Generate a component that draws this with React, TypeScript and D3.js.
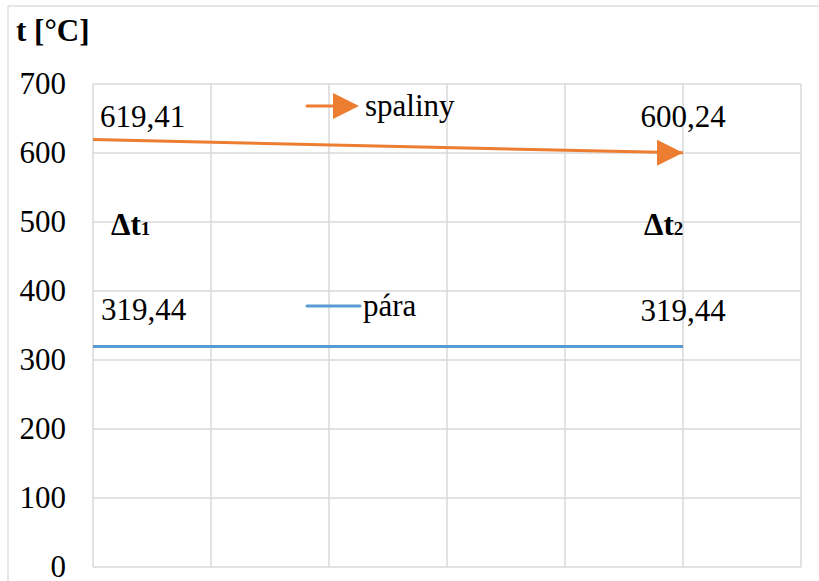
import React from "react";
import * as d3 from "d3";

const xPoints = [0, 5];
const spalinyValues = [619.41, 600.24];
const paraValues = [319.44, 319.44];
const yTicks = [0, 100, 200, 300, 400, 500, 600, 700];
const xGrid = [0, 1, 2, 3, 4, 5, 6];
const spalinyLabels = ["619,41", "600,24"];
const paraLabels = ["319,44", "319,44"];
const seriesNames = ["spaliny", "pára"];

const W = 819;
const H = 581;
const ORANGE = "#ed7d31";
const BLUE = "#5b9bd5";
const GRID = "#d9d9d9";
const FONT = "Liberation Serif";
const FS = 31;
const txt: React.CSSProperties = { fontFamily: FONT, fontWeight: 400, fontSize: FS };
const bold: React.CSSProperties = { fontFamily: FONT, fontWeight: 700, fontSize: FS };

export default function App() {
  const x = d3.scaleLinear().domain([0, 6]).range([93, 801]);
  const y = d3.scaleLinear().domain([0, 700]).range([567, 84]);

  const line = d3
    .line<number>()
    .x((_, i) => x(xPoints[i]))
    .y((d) => y(d));

  const tipX = x(xPoints[1]);
  const tipY = y(spalinyValues[1]);
  const arrow = (tx: number, ty: number) =>
    `M${tx},${ty} L${tx - 26},${ty - 13} L${tx - 26},${ty + 13} Z`;

  return (
    <svg
      width={W}
      height={H}
      style={{ position: "absolute", left: 0, top: 0, background: "#fff" }}
    >
      <rect x={0} y={0} width={W} height={H} fill="#fff" />
      <rect x={8} y={6} width={W + 20} height={H + 20} fill="none" stroke={GRID} strokeWidth={1.3} />

      {yTicks.map((t) => (
        <line key={"h" + t} x1={x(0)} x2={x(6)} y1={y(t)} y2={y(t)} stroke={GRID} strokeWidth={1.5} />
      ))}
      {xGrid.map((g) => (
        <line key={"v" + g} x1={x(g)} x2={x(g)} y1={y(0)} y2={y(700)} stroke={GRID} strokeWidth={1.5} />
      ))}

      {yTicks.map((t) => (
        <text key={"yl" + t} x={66} y={y(t) + 10} textAnchor="end" style={txt} fill="#000">
          {t}
        </text>
      ))}

      <text x={16} y={41} style={bold} fill="#000">
        t [°C]
      </text>

      <path d={line(spalinyValues) || ""} fill="none" stroke={ORANGE} strokeWidth={3} />
      <path d={arrow(tipX, tipY)} fill={ORANGE} />
      <path d={line(paraValues) || ""} fill="none" stroke={BLUE} strokeWidth={3} />

      <text x={100} y={127} style={txt} fill="#000">{spalinyLabels[0]}</text>
      <text x={tipX} y={127} textAnchor="middle" style={txt} fill="#000">{spalinyLabels[1]}</text>
      <text x={101} y={320} style={txt} fill="#000">{paraLabels[0]}</text>
      <text x={tipX} y={321} textAnchor="middle" style={txt} fill="#000">{paraLabels[1]}</text>

      <text x={111} y={235} style={bold} fill="#000">
        Δt<tspan style={{ fontSize: 19 }}>1</tspan>
      </text>
      <text x={644} y={235} style={bold} fill="#000">
        Δt<tspan style={{ fontSize: 19 }}>2</tspan>
      </text>

      <line x1={307} x2={336} y1={106} y2={106} stroke={ORANGE} strokeWidth={3} strokeLinecap="round" />
      <path d={arrow(359, 106)} fill={ORANGE} />
      <text x={365} y={116} style={txt} fill="#000">{seriesNames[0]}</text>

      <line x1={307} x2={360} y1={306} y2={306} stroke={BLUE} strokeWidth={3} strokeLinecap="round" />
      <text x={363} y={316} style={txt} fill="#000">{seriesNames[1]}</text>
    </svg>
  );
}
